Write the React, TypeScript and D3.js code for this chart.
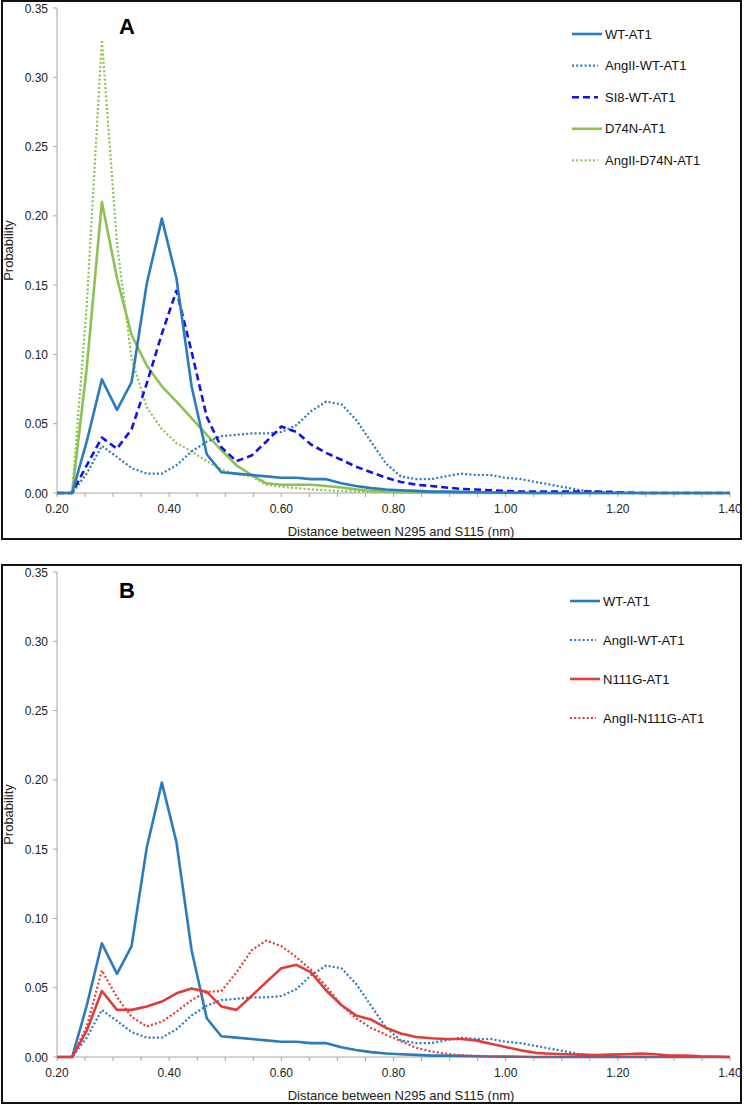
import React from "react";
import * as d3 from "d3";

// Bin centres (nm)
const distances = [
  0.200, 0.227, 0.253, 0.280, 0.307, 0.333, 0.360, 0.387, 0.413, 0.440,
  0.467, 0.493, 0.520, 0.547, 0.573, 0.600, 0.627, 0.653, 0.680, 0.707,
  0.733, 0.760, 0.787, 0.813, 0.840, 0.867, 0.893, 0.920, 0.947, 0.973,
  1.000, 1.027, 1.053, 1.080, 1.107, 1.133, 1.160, 1.187, 1.213, 1.240,
  1.267, 1.293, 1.320, 1.347, 1.373, 1.400,
];

const wtAT1 = [
  0, 0, 0.037, 0.082, 0.060, 0.080, 0.151, 0.198, 0.155, 0.077,
  0.028, 0.015, 0.014, 0.013, 0.012, 0.011, 0.011, 0.010, 0.010, 0.007,
  0.005, 0.0035, 0.0025, 0.002, 0.0015, 0.001, 0.001, 0.0008, 0.0005, 0.0004,
  0.0003, 0.0002, 0, 0, 0, 0, 0, 0, 0, 0,
  0, 0, 0, 0, 0, 0,
];

const angWtAT1 = [
  0, 0, 0.014, 0.034, 0.026, 0.018, 0.014, 0.014, 0.020, 0.030,
  0.037, 0.041, 0.042, 0.043, 0.043, 0.044, 0.049, 0.059, 0.066, 0.064,
  0.053, 0.037, 0.021, 0.012, 0.010, 0.010, 0.012, 0.014, 0.013, 0.013,
  0.011, 0.010, 0.008, 0.006, 0.004, 0.002, 0.001, 0.0005, 0, 0,
  0, 0, 0, 0, 0, 0,
];

const si8WtAT1 = [
  0, 0, 0.020, 0.040, 0.032, 0.046, 0.079, 0.115, 0.146, 0.102,
  0.055, 0.033, 0.023, 0.027, 0.037, 0.048, 0.044, 0.035, 0.029, 0.024,
  0.019, 0.015, 0.011, 0.008, 0.006, 0.005, 0.004, 0.003, 0.0025, 0.002,
  0.0015, 0.001, 0.001, 0.001, 0.001, 0.001, 0.001, 0.0008, 0.0003, 0,
  0, 0, 0, 0, 0, 0,
];

const d74nAT1 = [
  0, 0, 0.090, 0.210, 0.155, 0.114, 0.092, 0.077, 0.066, 0.054,
  0.042, 0.031, 0.020, 0.013, 0.007, 0.006, 0.006, 0.006, 0.005, 0.004,
  0.0026, 0.0015, 0.001, 0.0008, 0.0005, 0.0003, 0, 0, 0, 0,
  0, 0, 0, 0, 0, 0, 0, 0, 0, 0,
  0, 0, 0, 0, 0, 0,
];

const angD74nAT1 = [
  0, 0, 0.135, 0.327, 0.180, 0.097, 0.062, 0.046, 0.036, 0.030,
  0.023, 0.017, 0.0135, 0.012, 0.006, 0.0045, 0.0035, 0.0026, 0.002, 0.0014,
  0.001, 0.0007, 0.0005, 0.0003, 0.0003, 0.0003, 0.0003, 0.0003, 0.0003, 0.0003,
  0.0003, 0, 0, 0, 0, 0, 0, 0, 0, 0,
  0, 0, 0, 0, 0, 0,
];

const n111gAT1 = [
  0, 0, 0.019, 0.0476, 0.034, 0.034, 0.0365, 0.040, 0.046, 0.0495,
  0.047, 0.0365, 0.034, 0.044, 0.054, 0.064, 0.0665, 0.061, 0.048, 0.0375,
  0.030, 0.027, 0.021, 0.017, 0.0144, 0.0135, 0.013, 0.013, 0.012, 0.0096,
  0.0072, 0.0048, 0.003, 0.0024, 0.002, 0.0017, 0.0014, 0.0017, 0.002, 0.0024,
  0.002, 0.001, 0.001, 0.0005, 0.0003, 0,
];

const angN111gAT1 = [
  0, 0, 0.022, 0.0625, 0.043, 0.029, 0.022, 0.0255, 0.0327, 0.041,
  0.047, 0.0476, 0.061, 0.077, 0.084, 0.080, 0.072, 0.063, 0.051, 0.0375,
  0.028, 0.021, 0.016, 0.0115, 0.0067, 0.004, 0.0024, 0.0012, 0.0008, 0.0005,
  0.0002, 0, 0, 0, 0, 0, 0, 0, 0, 0,
  0, 0, 0, 0, 0, 0,
];

const yTicks = [0, 0.05, 0.1, 0.15, 0.2, 0.25, 0.3, 0.35];
const xMajorTicks = [0.2, 0.4, 0.6, 0.8, 1.0, 1.2, 1.4];
const xMinorTicks = [0.2, 0.25, 0.3, 0.35, 0.4, 0.45, 0.5, 0.55, 0.6, 0.65, 0.7, 0.75, 0.8, 0.85, 0.9, 0.95, 1.0, 1.05, 1.1, 1.15, 1.2, 1.25, 1.3, 1.35, 1.4];

const BLUE = "#2a7bbd";
const DBLUE = "#1212e6";
const GREEN = "#8cc153";
const RED = "#e03d3a";

type Style = "solid" | "dotted" | "dashed";
interface Series { name: string; values: number[]; color: string; style: Style; }

const seriesA: Series[] = [
  { name: "WT-AT1", values: wtAT1, color: BLUE, style: "solid" },
  { name: "AngII-WT-AT1", values: angWtAT1, color: BLUE, style: "dotted" },
  { name: "SI8-WT-AT1", values: si8WtAT1, color: DBLUE, style: "dashed" },
  { name: "D74N-AT1", values: d74nAT1, color: GREEN, style: "solid" },
  { name: "AngII-D74N-AT1", values: angD74nAT1, color: GREEN, style: "dotted" },
];

const seriesB: Series[] = [
  { name: "WT-AT1", values: wtAT1, color: BLUE, style: "solid" },
  { name: "AngII-WT-AT1", values: angWtAT1, color: BLUE, style: "dotted" },
  { name: "N111G-AT1", values: n111gAT1, color: RED, style: "solid" },
  { name: "AngII-N111G-AT1", values: angN111gAT1, color: RED, style: "dotted" },
];

// draw order (back to front) matching the reference
const drawOrderA = [4, 3, 1, 2, 0];
const drawOrderB = [1, 0, 3, 2];

const FONT = "'Liberation Sans', Arial, Helvetica, sans-serif";

function strokeProps(style: Style) {
  if (style === "dotted") return { strokeWidth: 2.2, strokeDasharray: "2,2.2" };
  if (style === "dashed") return { strokeWidth: 2.6, strokeDasharray: "7,4" };
  return { strokeWidth: 2.6, strokeDasharray: undefined };
}

interface PanelProps {
  top: number;
  letter: string;
  series: Series[];
  order: number[];
  legendX: number;
  legendY: number;
  legendStep: number;
}

function Panel({ top, letter, series, order, legendX, legendY, legendStep }: PanelProps) {
  const x = d3.scaleLinear().domain([0.2, 1.4]).range([57, 730]);
  const y = d3.scaleLinear().domain([0, 0.35]).range([top + 485, top]);
  const line = d3
    .line<number>()
    .x((_, i) => x(distances[i]))
    .y((d) => y(d));
  const y0 = y(0);
  const frameTop = top - 7;
  const frameBottom = top + 531;

  return (
    <g>
      <rect x={2} y={frameTop} width={739} height={frameBottom - frameTop} fill="white" stroke="#111" strokeWidth={2} />
      {/* y axis */}
      <line x1={57} x2={57} y1={y(0.35)} y2={y0} stroke="#a6a6a6" strokeWidth={1} />
      {yTicks.map((t) => (
        <g key={"y" + t}>
          <line x1={53} x2={57} y1={y(t)} y2={y(t)} stroke="#a6a6a6" strokeWidth={1} />
          <text x={48} y={y(t) + 4.5} textAnchor="end" fontSize={12} fontFamily={FONT} fill="#222">
            {d3.format(".2f")(t)}
          </text>
        </g>
      ))}
      {/* x axis */}
      <line x1={57} x2={730} y1={y0} y2={y0} stroke="#a6a6a6" strokeWidth={1} />
      {xMinorTicks.map((t) => (
        <line key={"xm" + t} x1={x(t)} x2={x(t)} y1={y0} y2={y0 + 4} stroke="#a6a6a6" strokeWidth={1} />
      ))}
      {xMajorTicks.map((t) => (
        <text key={"xl" + t} x={x(t)} y={y0 + 20} textAnchor="middle" fontSize={12} fontFamily={FONT} fill="#222">
          {d3.format(".2f")(t)}
        </text>
      ))}
      <text x={401} y={top + 528} textAnchor="middle" fontSize={13} fontFamily={FONT} fill="#222">
        Distance between N295 and S115 (nm)
      </text>
      <text
        transform={`translate(13,${(y(0.35) + y0) / 2}) rotate(-90)`}
        textAnchor="middle"
        fontSize={13}
        fontFamily={FONT}
        fill="#222"
      >
        Probability
      </text>
      {/* series */}
      {order.map((i) => {
        const s = series[i];
        const sp = strokeProps(s.style);
        return (
          <path
            key={s.name}
            d={line(s.values) || ""}
            fill="none"
            stroke={s.color}
            strokeWidth={sp.strokeWidth}
            strokeDasharray={sp.strokeDasharray}
            strokeLinejoin="round"
          />
        );
      })}
      {/* panel letter */}
      <text x={119} y={top + 26} fontSize={22} fontWeight="bold" fontFamily={FONT} fill="#000">
        {letter}
      </text>
      {/* legend */}
      {series.map((s, i) => {
        const ly = legendY + i * legendStep;
        const sp = strokeProps(s.style);
        const x2 = s.style === "solid" ? legendX + 30 : legendX + 26;
        return (
          <g key={"lg" + s.name}>
            <line x1={legendX} x2={x2} y1={ly} y2={ly} stroke={s.color} strokeWidth={sp.strokeWidth} strokeDasharray={sp.strokeDasharray} />
            <text x={legendX + 33} y={ly + 4.5} fontSize={13} fontFamily={FONT} fill="#111">
              {s.name}
            </text>
          </g>
        );
      })}
    </g>
  );
}

export default function App() {
  return (
    <svg width={745} height={1104} style={{ position: "absolute", left: 0, top: 0, background: "white" }}>
      <rect x={0} y={0} width={745} height={1104} fill="white" />
      <Panel top={8} letter="A" series={seriesA} order={drawOrderA} legendX={572} legendY={34} legendStep={31.6} />
      <Panel top={572} letter="B" series={seriesB} order={drawOrderB} legendX={570} legendY={601} legendStep={39} />
    </svg>
  );
}
